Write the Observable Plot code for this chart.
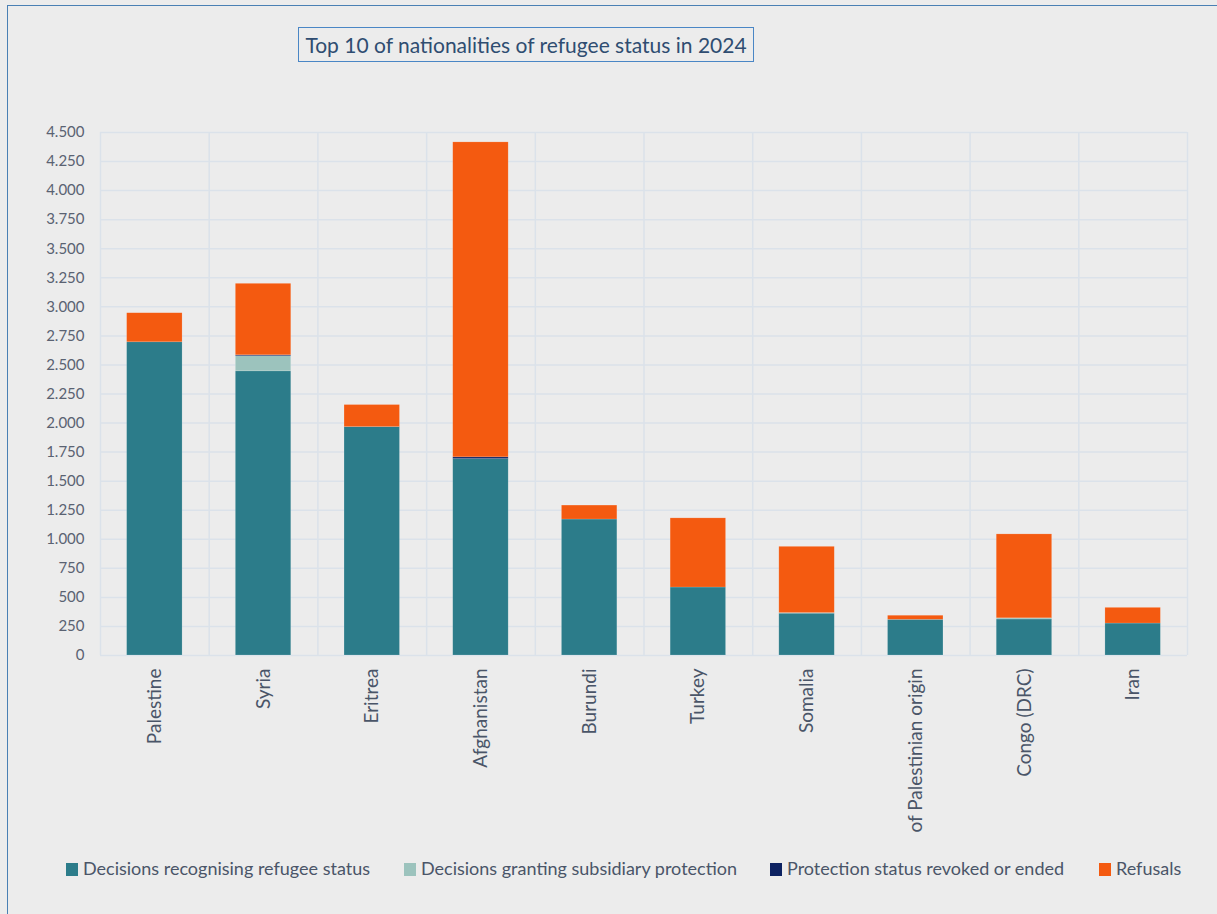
<!DOCTYPE html>
<html>
<head>
<meta charset="utf-8">
<script src="https://cdn.jsdelivr.net/npm/d3@7"></script>
<script src="https://cdn.jsdelivr.net/npm/@observablehq/plot@0.6"></script>
<style>
  html, body { margin: 0; padding: 0; width: 1217px; height: 914px; overflow: hidden; background: #ececec; font-family: Lato, "Open Sans", sans-serif; }
  #frame { position: absolute; left: 7px; top: 5px; width: 1300px; height: 1000px; border: 1.5px solid #4a80b4; box-sizing: border-box; }
  #title { position: absolute; left: 298px; top: 27px; width: 456px; height: 35px; border: 1px solid #4a86c5; box-sizing: border-box; color: #2f4d71; font-size: 21px; line-height: 33px; text-align: center; white-space: nowrap; }
  #chart { position: absolute; left: 0; top: 0; }
  #legend { position: absolute; top: 856px; left: 0; width: 1217px; height: 24px; color: #4a5568; font-size: 18px; }
  .item { position: absolute; top: 0; white-space: nowrap; line-height: 24px; }
  .sw { display: inline-block; width: 12px; height: 13px; margin-right: 5px; vertical-align: -1px; }
</style>
</head>
<body>
<div id="frame"></div>
<div id="chart"></div>
<div id="title">Top 10 of nationalities of refugee status in 2024</div>
<div id="legend"></div>
<script>
const categories = ["Palestine", "Syria", "Eritrea", "Afghanistan", "Burundi", "Turkey", "Somalia", "of Palestinian origin", "Congo (DRC)", "Iran"];
const seriesNames = ["Decisions recognising refugee status", "Decisions granting subsidiary protection", "Protection status revoked or ended", "Refusals"];
const seriesColors = ["#2c7c8a", "#9cc3bd", "#0d2261", "#f45a10"];
const recognised = [2695, 2445, 1965, 1690, 1170, 585, 360, 307, 310, 275];
const subsidiary = [0, 130, 0, 0, 0, 0, 5, 0, 10, 0];
const revoked = [0, 8, 0, 15, 0, 0, 0, 0, 0, 0];
const refusals = [250, 615, 190, 2710, 120, 595, 570, 35, 722, 135];
const yTicks = d3.range(0, 4501, 250);

const seriesValues = [recognised, subsidiary, revoked, refusals];
const data = [];
seriesNames.forEach((s, si) => categories.forEach((c, ci) => data.push({category: c, series: s, value: seriesValues[si][ci]})));

const W = 1217, H = 850, ML = 100, MR = 30, MT = 132, MB = H - 655;
const step = (W - ML - MR) / categories.length;
const fmt = d => d3.format(",")(d).replace(/,/g, ".");
const gridColor = "#dbe2ea";

const plot = Plot.plot({
  width: W, height: H,
  marginLeft: ML, marginRight: MR, marginTop: MT, marginBottom: MB,
  style: {background: "transparent", fontFamily: "Lato, 'Open Sans', sans-serif"},
  x: {domain: categories, paddingInner: 0.49, paddingOuter: 0.245, round: false, label: null},
  y: {domain: [0, 4500], label: null},
  color: {domain: seriesNames, range: seriesColors},
  marks: [
    Plot.ruleY(yTicks, {stroke: gridColor, strokeWidth: 1.5}),
    Plot.ruleX(categories, {x: d => d, dx: -step / 2, y1: 0, y2: 4500, stroke: gridColor, strokeWidth: 1.5}),
    Plot.ruleX(categories.slice(-1), {x: d => d, dx: step / 2, y1: 0, y2: 4500, stroke: gridColor, strokeWidth: 1.5}),
    Plot.barY(data, Plot.stackY({x: "category", y: "value", fill: "series", order: seriesNames, stroke: "#ffffff", strokeOpacity: 0.25, strokeWidth: 0.6})),
    Plot.axisY({ticks: yTicks, tickFormat: fmt, tickSize: 0, tickPadding: 16, fontSize: 15, color: "#5a6272", label: null}),
    Plot.axisX({tickRotate: -90, tickSize: 0, tickPadding: 13, fontSize: 19, color: "#4a5568", label: null})
  ]
});
document.getElementById("chart").appendChild(plot);

const legendX = [66, 404, 770, 1099];
const legend = document.getElementById("legend");
seriesNames.forEach((s, i) => {
  const it = document.createElement("div");
  it.className = "item";
  it.style.left = legendX[i] + "px";
  it.innerHTML = `<span class="sw" style="background:${seriesColors[i]}"></span>${s}`;
  legend.appendChild(it);
});
</script>
</body>
</html>
